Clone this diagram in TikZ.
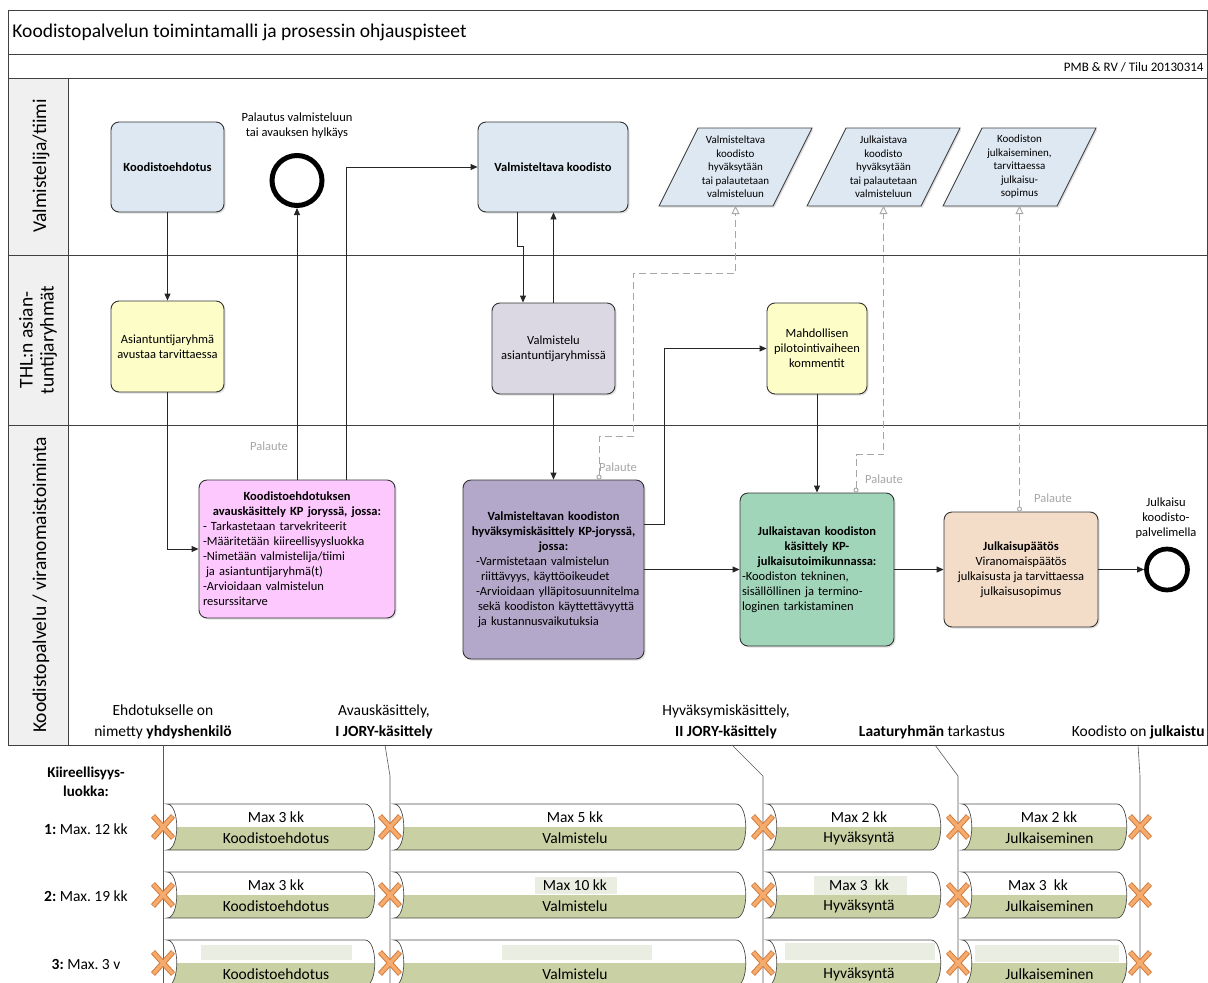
\documentclass[tikz,border=0pt]{standalone}
\usepackage{fontspec}
\setmainfont{Carlito}
\usepackage{tikz}
\usetikzlibrary{%
  arrows.meta,%
  shapes,%
  shadows,%
  positioning,% wg. " of "
  calc%
}

\definecolor{cblue}{HTML}{DEE8F2}
\definecolor{cyellow}{HTML}{FDFDC8}
\definecolor{clav}{HTML}{DCD8E3}
\definecolor{cpink}{HTML}{FDC8FD}
\definecolor{cpurple}{HTML}{B3A8C9}
\definecolor{cgreen}{HTML}{A1D5BA}
\definecolor{cpeach}{HTML}{F3DCC8}
\definecolor{bargreen}{HTML}{C8D0A4}
\definecolor{hilite}{HTML}{EAEDE2}
\definecolor{xfill}{HTML}{F5AA6E}
\definecolor{xedge}{HTML}{D47C3A}
\definecolor{lanegray}{HTML}{F0F0F0}
\definecolor{fbgray}{HTML}{A6A6A6}

\begin{document}
\frenchspacing
\begin{tikzpicture}[
  x=1pt, y=-1pt, line width=0.9pt,
  >={Triangle[length=7pt,width=6pt]},
  box/.style={draw=black!80, rounded corners=8pt, inner sep=3pt,
    drop shadow={shadow xshift=1.5pt,shadow yshift=-1.5pt,opacity=0.25},
    font=\fontsize{12.5}{15}\selectfont},
  cbox/.style={box, align=center},
  dobj/.style={draw=black!75, fill=cblue,
    drop shadow={shadow xshift=1.5pt,shadow yshift=-1.5pt,opacity=0.25}},
  dtext/.style={align=center, font=\fontsize{11}{13.5}\selectfont},
  flow/.style={->, draw=black!85},
  fb/.style={draw=fbgray, dash pattern=on 7pt off 4pt,
    arrows={Circle[open,length=5pt]-Triangle[open,length=8pt,width=8pt]}},
  fbtext/.style={text=fbgray, font=\fontsize{12.5}{15}\selectfont},
  endev/.style={circle, draw=black, fill=white, inner sep=0pt},
  lbl/.style={align=center, font=\fontsize{12.5}{15}\selectfont},
  lane/.style={align=center, rotate=90, font=\fontsize{19.5}{21}\selectfont},
  mstone/.style={align=center, font=\fontsize{15.5}{21}\selectfont},
  bartext/.style={font=\fontsize{15.5}{18}\selectfont, inner sep=1pt},
  barline/.style={draw=black!70, line width=0.7pt},
  lead/.style={draw=black!65, line width=0.6pt}
]
\useasboundingbox (0,0) rectangle (1208,983);

% rahmen + radat
\fill[lanegray] (8,78) rectangle (68,745);
\draw[draw=black!75, line width=1pt] (8,10) rectangle (1207,745);
\draw[draw=black!75, line width=1pt] (8,54) -- (1207,54) (8,78) -- (1207,78)
  (68,78) -- (68,745) (8,255) -- (1207,255) (8,425) -- (1207,425);

\node[anchor=west, inner sep=0pt, font=\fontsize{19.5}{22}\selectfont] (title) at (12,32)
  {Koodistopalvelun toimintamalli ja prosessin ohjauspisteet};
\node[anchor=east, inner sep=0pt, font=\fontsize{13}{15}\selectfont] (ver) at (1204,67)
  {PMB \& RV / Tilu 20130314};

\node[lane] (ln1) at (41,166) {Valmistelija/tiimi};
\node[lane] (ln2) at (38,340) {THL:n asian-\\tuntijaryhmät};
\node[lane] (ln3) at (41,585) {Koodistopalvelu / viranomaistoiminta};

% prosessi
\node[cbox, fill=cblue, minimum width=113pt, minimum height=90pt,
  font=\fontsize{12.5}{15}\selectfont\bfseries] (kehd) at (167.5,167) {Koodistoehdotus};
\node[cbox, fill=cyellow, minimum width=113pt, minimum height=91pt] (asry) at (167.5,346.5)
  {Asiantuntijaryhmä\\avustaa tarvittaessa};
\node[box, fill=cpink, minimum width=196pt, minimum height=138pt, text width=188pt,
  inner xsep=4pt] (avaus) at (297,549) {%
  \centering\textbf{Koodistoehdotuksen\\avauskäsittely KP joryssä, jossa:}\par
  \raggedright - Tarkastetaan tarvekriteerit\\-Määritetään kiireellisyysluokka\\
  -Nimetään valmistelija/tiimi\\\hspace*{3pt}ja asiantuntijaryhmä(t)\\
  -Arvioidaan valmistelun\\resurssitarve\par};

\node[endev, line width=5pt, minimum size=50pt] (hylk) at (297,180.5) {};
\node[lbl] (hylkt) at (297,126) {Palautus valmisteluun\\tai avauksen hylkäys};

\node[cbox, fill=cblue, minimum width=150pt, minimum height=90pt,
  font=\fontsize{12.5}{15}\selectfont\bfseries] (vkood) at (553,167) {Valmisteltava koodisto};
\node[cbox, fill=clav, minimum width=123pt, minimum height=91pt] (valm) at (553.5,348.5)
  {Valmistelu\\asiantuntijaryhmissä};
\node[box, fill=cpurple, minimum width=181pt, minimum height=179pt, text width=177pt,
  inner xsep=2pt] (hyv) at (553.5,569.5) {%
  \centering\textbf{Valmisteltavan koodiston\\hyväksymiskäsittely KP-joryssä,\\jossa:}\par
  \raggedright\leftskip=11pt -Varmistetaan valmistelun\\\hspace*{5pt}riittävyys, käyttöoikeudet\\
  -Arvioidaan ylläpitosuunnitelma\\\hspace*{2pt}sekä koodiston käyttettävyyttä\\
  \hspace*{2pt}ja kustannusvaikutuksia\par};

\node[cbox, fill=cyellow, minimum width=100pt, minimum height=91pt] (pilot) at (817,348.5)
  {Mahdollisen\\pilotointivaiheen\\kommentit};
\node[box, fill=cgreen, minimum width=154pt, minimum height=153pt, text width=150pt,
  inner xsep=2pt] (julk) at (817,569.5) {%
  \centering\textbf{Julkaistavan koodiston\\käsittely KP-\\julkaisutoimikunnassa:}\par
  \raggedright -Koodiston tekninen,\\sisällöllinen ja termino-\\loginen tarkistaminen\par};
\node[cbox, fill=cpeach, minimum width=154pt, minimum height=115pt] (paatos) at (1021,569.5)
  {\textbf{Julkaisupäätös}\\Viranomaispäätös\\julkaisusta ja tarvittaessa\\julkaisusopimus};
\node[endev, line width=4.7pt, minimum size=41pt] (loppu) at (1167,569.5) {};
\node[lbl] (loppt) at (1166,518) {Julkaisu\\koodisto-\\palvelimella};

% tietoobjektit
\draw[dobj] (659,206) -- (773,206) -- (812,128) -- (698,128) -- cycle;
\node[dtext] (d1) at (735.5,167)
  {Valmisteltava\\koodisto\\hyväksytään\\tai palautetaan\\valmisteluun};
\coordinate (d1-b) at (735.5,206);
\draw[dobj] (807,206) -- (921,206) -- (960,128) -- (846,128) -- cycle;
\node[dtext] (d2) at (883.5,167)
  {Julkaistava\\koodisto\\hyväksytään\\tai palautetaan\\valmisteluun};
\coordinate (d2-b) at (883.5,206);
\draw[dobj] (943,206) -- (1057,206) -- (1096,128) -- (982,128) -- cycle;
\node[dtext] (d3) at (1019.5,167)
  {Koodiston\\julkaiseminen,\\tarvittaessa\\julkaisu-\\sopimus};
\coordinate (d3-b) at (1019.5,206);

% yhteydet
\draw[flow] (kehd) -- (asry);
\draw[flow] (asry.south) |- (avaus.west);
\draw[flow] (avaus.north) -- (hylk.south);
\draw[flow] ([xshift=49pt]avaus.north) |- (vkood.west);
\draw[flow] ([xshift=-36pt]vkood.south) -- ++(0,34) -| ([xshift=-30.5pt]valm.north);
\draw[flow] (valm.north) -- (valm.north |- vkood.south);
\draw[flow] (valm) -- (hyv);
\draw[flow] ([yshift=45pt]hyv.east) -- ++(20,0) |- (pilot.west);
\draw[flow] (pilot) -- (julk);
\draw[flow] (hyv) -- (julk);
\draw[flow] (julk) -- (paatos);
\draw[flow] (paatos) -- (loppu);

\draw[fb] ([xshift=45.5pt]hyv.north) -- ++(0,-43) -| (633,273) -| (d1-b);
\draw[fb] ([xshift=39pt]julk.north) -- ++(0,-38) -| (d2-b);
\draw[fb] (paatos.north -| d3-b) -- (d3-b);

\node[fbtext] (fb1) at (269,446) {Palaute};
\node[fbtext] (fb2) at (618,467) {Palaute};
\node[fbtext] (fb3) at (884,479) {Palaute};
\node[fbtext] (fb4) at (1053,498) {Palaute};

% ohjauspisteet
\node[mstone] (m1) at (163,721.5) {Ehdotukselle on\\nimetty \textbf{yhdyshenkilö}};
\node[mstone] (m2) at (384,721.5) {Avauskäsittely,\\\textbf{I JORY-käsittely}};
\node[mstone] (m3) at (726,721.5) {Hyväksymiskäsittely,\\\textbf{II JORY-käsittely}};
\node[mstone] (m4) at (932,732) {\textbf{Laaturyhmän} tarkastus};
\node[mstone, anchor=east, inner xsep=0pt] (m5) at (1205,732) {Koodisto on \textbf{julkaistu}};

\draw[lead] (163,745) -- (163,983);
\foreach \xa/\xb in {385/390,732/763,935/958,1138/1140}
  \draw[lead] (\xa,745) -- (\xb,776) -- (\xb,983);

% aikajana
\node[align=center, font=\fontsize{15}{19}\selectfont\bfseries] (kl) at (86,782)
  {Kiireellisyys-\\luokka:};
\node[bartext] (r1) at (86,829) {\textbf{1:} Max. 12 kk};
\node[bartext] (r2) at (86,896) {\textbf{2:} Max. 19 kk};
\node[bartext] (r3) at (86,964) {\textbf{3:} Max. 3 v};

\foreach \ry/\rw in {827/1,895/2,963/3} {
  \foreach \xa/\xb/\id/\nm in {167/365/a/Koodistoehdotus,394/736/b/Valmistelu,
      767/931/c/Hyväksyntä,962/1117/d/Julkaiseminen} {
    \begin{scope}
      \clip (\xa,\ry-23) -- (\xb,\ry-23) .. controls (\xb+13,\ry-23) and (\xb+13,\ry+23) .. (\xb,\ry+23)
        -- (\xa,\ry+23) .. controls (\xa+13,\ry+23) and (\xa+13,\ry-23) .. (\xa,\ry-23) -- cycle;
      \fill[white] (\xa,\ry-24) rectangle (\xb+15,\ry);
      \fill[bargreen] (\xa,\ry) rectangle (\xb+15,\ry+24);
    \end{scope}
    \draw[barline] (\xa,\ry-23) -- (\xb,\ry-23) .. controls (\xb+13,\ry-23) and (\xb+13,\ry+23) .. (\xb,\ry+23)
      -- (\xa,\ry+23) .. controls (\xa+13,\ry+23) and (\xa+13,\ry-23) .. (\xa,\ry-23) -- cycle;
    \node[bartext] (bar\rw\id) at ({(\xa+\xb)/2+10},\ry+11) {\nm};
  }
}

\fill[hilite] (535,877) rectangle (617,894);
\fill[hilite] (814,876) rectangle (907,895);
\fill[hilite] (201,945) rectangle (352,960);
\fill[hilite] (502,945) rectangle (652,960);
\fill[hilite] (785,943) rectangle (935,960);
\fill[hilite] (975,945) rectangle (1119,962);

\foreach \cx/\txt [count=\i] in {276/Max 3 kk,575/Max 5 kk,859/Max 2 kk,1049/Max 2 kk}
  \node[bartext] (ta\i) at (\cx,817) {\txt};
\foreach \cx/\txt [count=\i] in {276/Max 3 kk,575/Max 10 kk,859/Max 3~ kk,1038/Max 3~ kk}
  \node[bartext] (tb\i) at (\cx,885) {\txt};

\foreach \cx in {163,390,763,958,1140}
  \foreach \cy in {827,895,963} {
    \draw[xedge, line width=5.5pt] (\cx-10,\cy-11) -- (\cx+10,\cy+11) (\cx-10,\cy+11) -- (\cx+10,\cy-11);
    \draw[xfill, line width=3.5pt] (\cx-9.5,\cy-10.5) -- (\cx+9.5,\cy+10.5) (\cx-9.5,\cy+10.5) -- (\cx+9.5,\cy-10.5);
  }

\end{tikzpicture}
\end{document}
